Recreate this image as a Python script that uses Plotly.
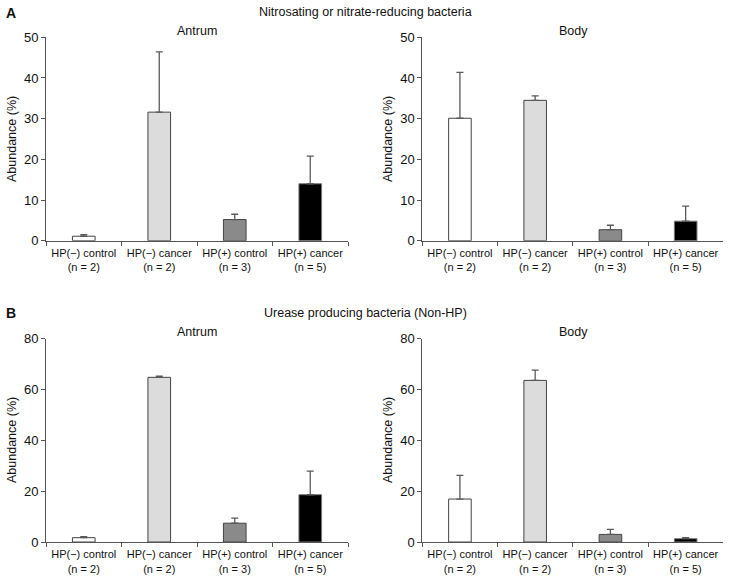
import plotly.graph_objects as go

categories = ["HP(−) control<br>(n = 2)", "HP(−) cancer<br>(n = 2)",
              "HP(+) control<br>(n = 3)", "HP(+) cancer<br>(n = 5)"]
bar_colors = ["#ffffff", "#dcdcdc", "#8a8a8a", "#000000"]
bar_edges = ["#444444", "#444444", "#444444", "#777777"]

# Panel A: Nitrosating or nitrate-reducing bacteria
a_antrum_mean = [1.1, 31.6, 5.2, 14.0]
a_antrum_err = [0.4, 14.8, 1.3, 6.8]
a_body_mean = [30.1, 34.5, 2.7, 4.8]
a_body_err = [11.3, 1.1, 1.1, 3.7]

# Panel B: Urease producing bacteria (Non-HP)
b_antrum_mean = [1.7, 64.8, 7.4, 18.6]
b_antrum_err = [0.4, 0.5, 2.0, 9.3]
b_body_mean = [16.9, 63.6, 3.0, 1.3]
b_body_err = [9.3, 4.0, 2.0, 0.4]

panels = [
    ("x", "y", a_antrum_mean, a_antrum_err),
    ("x2", "y2", a_body_mean, a_body_err),
    ("x3", "y3", b_antrum_mean, b_antrum_err),
    ("x4", "y4", b_body_mean, b_body_err),
]

W, H = 731, 582
FONT = "Liberation Sans, Arial, sans-serif"

fig = go.Figure()
for xa, ya, mean, err in panels:
    fig.add_trace(go.Bar(
        x=categories, y=mean, xaxis=xa, yaxis=ya, width=0.3,
        marker=dict(color=bar_colors, line=dict(color=bar_edges, width=1)),
        error_y=dict(type="data", symmetric=False, array=err,
                     arrayminus=[0] * len(err), color="#5a5a5a",
                     thickness=1.3, width=3.5),
        showlegend=False, hoverinfo="skip",
    ))

def px2x(p):
    return p / W

def px2y(p):
    return 1 - p / H

xdom_left = [px2x(46), px2x(348)]
xdom_right = [px2x(422.3), px2x(723.3)]
ydom_top = [px2y(240.7), px2y(37.3)]
ydom_bot = [px2y(542), px2y(338.7)]

axis_line = "#555555"
xcommon = dict(type="category", range=[-0.5, 3.5], tickson="boundaries",
               ticks="outside", ticklen=4, tickcolor=axis_line,
               showline=True, linecolor=axis_line, linewidth=1,
               showgrid=False, zeroline=False, automargin=False,
               ticklabeloverflow="allow", tickangle=0, ticklabelstandoff=2,
               tickfont=dict(family=FONT, size=11, color="#111111"))
ycommon = dict(ticks="outside", ticklen=4, tickcolor=axis_line,
               showline=True, linecolor=axis_line, linewidth=1,
               showgrid=False, zeroline=False, automargin=False,
               ticklabeloverflow="allow",
               tickfont=dict(family=FONT, size=13, color="#111111"))

fig.update_layout(
    width=W, height=H,
    margin=dict(l=0, r=0, t=0, b=0, autoexpand=False),
    plot_bgcolor="white", paper_bgcolor="white",
    bargap=0.7,
    xaxis=dict(domain=xdom_left, anchor="y", **xcommon),
    xaxis2=dict(domain=xdom_right, anchor="y2", **xcommon),
    xaxis3=dict(domain=xdom_left, anchor="y3", **xcommon),
    xaxis4=dict(domain=xdom_right, anchor="y4", **xcommon),
    yaxis=dict(domain=ydom_top, anchor="x", range=[0, 50], dtick=10, **ycommon),
    yaxis2=dict(domain=ydom_top, anchor="x2", range=[0, 50], dtick=10, **ycommon),
    yaxis3=dict(domain=ydom_bot, anchor="x3", range=[0, 80], dtick=20, **ycommon),
    yaxis4=dict(domain=ydom_bot, anchor="x4", range=[0, 80], dtick=20, **ycommon),
)

txt = dict(family=FONT, size=12.5, color="#111111")
ann = [
    dict(text="<b>A</b>", x=px2x(11), y=px2y(13), font=dict(family=FONT, size=14, color="#111111")),
    dict(text="<b>B</b>", x=px2x(11), y=px2y(313), font=dict(family=FONT, size=14, color="#111111")),
    dict(text="Nitrosating or nitrate-reducing bacteria", x=px2x(365), y=px2y(12), font=txt),
    dict(text="Urease producing bacteria (Non-HP)", x=px2x(365), y=px2y(313), font=txt),
    dict(text="Antrum", x=px2x(197), y=px2y(31), font=txt),
    dict(text="Body", x=px2x(573), y=px2y(31), font=txt),
    dict(text="Antrum", x=px2x(197), y=px2y(332), font=txt),
    dict(text="Body", x=px2x(573), y=px2y(332), font=txt),
]
for xc, yc in [(12, 139), (388, 139), (12, 440), (388, 440)]:
    ann.append(dict(text="Abundance (%)", x=px2x(xc), y=px2y(yc),
                    textangle=-90, font=txt))
for a in ann:
    fig.add_annotation(xref="paper", yref="paper", showarrow=False,
                       xanchor="center", yanchor="middle", **a)

fig.write_html("out.html", config={"displayModeBar": False},
               post_script="document.body.style.margin='0';document.body.style.overflow='hidden';")
